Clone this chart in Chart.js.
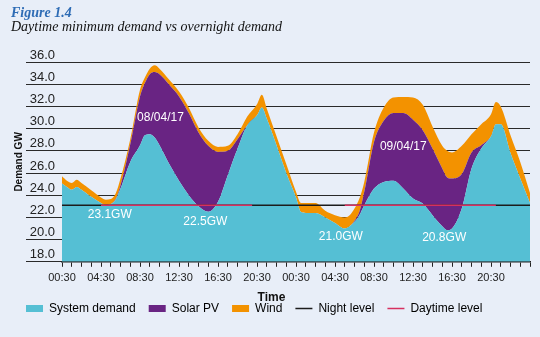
<!DOCTYPE html>
<html lang="en">
<head>
<meta charset="UTF-8">
<title>Daytime minimum demand vs overnight demand</title>
<script src="https://cdn.jsdelivr.net/npm/chart.js"></script>
<style>
  body { margin: 0; padding: 0; background: #e8eef8; }
  .wrap { position: relative; width: 540px; height: 337px; }
  .fig { position: absolute; left: 11px; top: 5px; font: italic bold 14px "Liberation Serif", serif; color: #2e6cb5; }
  .sub { position: absolute; left: 11px; top: 19px; font: italic 14px "Liberation Serif", serif; color: #111; }
  canvas { position: absolute; left: 0; top: 0; }
</style>
</head>
<body>
<div class="wrap">
  <canvas id="demandChart" width="540" height="337"></canvas>
  <div class="fig">Figure 1.4</div>
  <div class="sub">Daytime minimum demand vs overnight demand</div>
</div>

<script>
// hours after 00:30 on 08/04/17
var hours  = [0, 0.5, 1, 1.5, 2, 3, 4, 4.5, 5, 5.5, 6, 7, 8, 8.5, 9, 9.5, 10, 11, 12, 13, 14, 15, 16, 17, 18, 19, 20, 20.5, 21, 22, 23,
              24, 24.5, 25, 26, 27, 28, 29, 29.5, 30, 30.5, 31, 32, 33, 34, 35, 36, 37, 38, 39, 39.5, 40, 41, 42, 43, 44, 44.5, 45, 46, 47, 48];
var demand = [25.05, 24.75, 24.5, 24.75, 24.5, 23.85, 23.3, 23.1, 23.2, 23.6, 24.6, 27.0, 28.5, 29.4, 29.5, 29.2, 28.5, 26.8, 25.3, 24.0, 23.0, 22.5, 23.4, 25.8, 28.2, 30.3, 31.2, 31.9, 30.9, 28.5, 26.0,
              23.8, 22.5, 22.4, 22.4, 22.0, 21.5, 21.0, 21.2, 21.6, 22.2, 23.1, 24.6, 25.2, 25.3, 24.6, 23.7, 23.25, 22.2, 21.2, 20.85, 21.0, 22.8, 26.4, 28.2, 29.3, 30.4, 30.4, 27.8, 25.5, 23.3];
var solar  = [0, 0, 0, 0, 0, 0, 0, 0, 0, 0.05, 0.3, 1.6, 4.4, 4.7, 5.4, 5.9, 6.4, 7.15, 7.6, 7.4, 6.65, 5.95, 4.5, 2.2, 0.85, 0, 0, 0, 0, 0, 0,
              0, 0, 0, 0, 0, 0, 0, 0, 0.1, 0.3, 1.2, 4.2, 5.5, 6.1, 6.8, 7.1, 6.6, 6.0, 5.2, 4.75, 4.5, 3.1, 1.45, 0.3, 0, 0, 0, 0, 0, 0];
var wind   = [0.65, 0.55, 0.6, 0.65, 0.6, 0.6, 0.5, 0.5, 0.45, 0.5, 0.6, 0.45, 0.6, 0.5, 0.5, 0.6, 0.5, 0.45, 0.45, 0.5, 0.45, 0.45, 0.45, 0.45, 0.45, 0.8, 1.0, 1.15, 0.9, 0.8, 0.8,
              0.5, 0.8, 0.9, 0.9, 0.6, 0.7, 1.0, 1.0, 1.1, 1.2, 0.9, 0.85, 1.2, 1.4, 1.45, 2.0, 2.3, 2.0, 2.05, 2.4, 2.35, 2.55, 1.65, 1.9, 2.0, 2.0, 1.6, 1.6, 1.5, 0.9];

var nightLevel = 23.1;
var daytimeHours = [4, 19.5, null, 29, 44.5];
var timeLabels = ['00:30', '04:30', '08:30', '12:30', '16:30', '20:30'];

var notes = [
    { text: '08/04/17', h: 10.1, v: 31.0 },
    { text: '23.1GW',   h: 4.9,  v: 22.2 },
    { text: '22.5GW',   h: 14.7, v: 21.65 },
    { text: '09/04/17', h: 35.0, v: 28.35 },
    { text: '21.0GW',   h: 28.6, v: 20.3 },
    { text: '20.8GW',   h: 39.2, v: 20.15 }
];

function points(values) {
    return hours.map(function(h, i) { return { x: h, y: values[i] }; });
}

var notePlugin = {
    id: 'notes',
    afterDatasetsDraw: function(chart) {
        var ctx = chart.ctx, x = chart.scales.x, y = chart.scales.y;
        ctx.save();
        ctx.font = '12px "Liberation Sans", Arial, sans-serif';
        ctx.fillStyle = '#ffffff';
        ctx.textAlign = 'center';
        ctx.textBaseline = 'middle';
        notes.forEach(function(n) {
            ctx.fillText(n.text, x.getPixelForValue(n.h), y.getPixelForValue(n.v));
        });
        ctx.restore();
    }
};

Chart.defaults.font.family = '"Liberation Sans", Arial, sans-serif';
Chart.defaults.color = '#222';

new Chart(document.getElementById('demandChart'), {
    type: 'line',
    data: {
        datasets: [
            { label: 'System demand', data: points(demand), backgroundColor: '#55bfd4', borderWidth: 0, pointRadius: 0, fill: 'start', stack: 'supply', order: 2, cubicInterpolationMode: 'monotone' },
            { label: 'Solar PV', data: points(solar), backgroundColor: '#692483', borderWidth: 0, pointRadius: 0, fill: '-1', stack: 'supply', order: 2, cubicInterpolationMode: 'monotone' },
            { label: 'Wind', data: points(wind), backgroundColor: '#f39200', borderWidth: 0, pointRadius: 0, fill: '-1', stack: 'supply', order: 2, cubicInterpolationMode: 'monotone' },
            { label: 'Night level', data: [{ x: 0, y: nightLevel }, { x: 48, y: nightLevel }], borderColor: '#1c1c1c', borderWidth: 1.5, pointRadius: 0, fill: false, stack: 'night', order: 1 },
            { label: 'Daytime level', data: daytimeHours.map(function(h) { return { x: h === null ? 24 : h, y: h === null ? null : nightLevel }; }),
              borderColor: '#d6305f', borderWidth: 1.5, pointRadius: 0, fill: false, stack: 'day', order: 0 }
        ]
    },
    options: {
        responsive: false,
        animation: false,
        layout: { padding: { top: 62, right: 10, bottom: 12, left: 13 } },
        plugins: {
            tooltip: { enabled: false },
            title: {
                display: true, text: 'Time', position: 'bottom', weight: 500,
                color: '#111', font: { size: 12, weight: 'bold' }, padding: { top: 0, bottom: -15 }
            },
            legend: {
                position: 'bottom', align: 'start',
                labels: {
                    usePointStyle: true, pointStyleWidth: 17, boxHeight: 7, padding: 13,
                    color: '#222', font: { size: 12 },
                    generateLabels: function(chart) {
                        return chart.data.datasets.map(function(ds, i) {
                            var isLine = ds.fill === false;
                            return {
                                text: ds.label, datasetIndex: i,
                                fillStyle: isLine ? ds.borderColor : ds.backgroundColor,
                                strokeStyle: isLine ? ds.borderColor : ds.backgroundColor,
                                lineWidth: isLine ? 1.5 : 0,
                                pointStyle: isLine ? 'line' : 'rect'
                            };
                        });
                    }
                }
            }
        },
        scales: {
            x: {
                type: 'linear', min: 0, max: 48,
                border: { display: true, color: '#222', width: 1.5 },
                grid: { drawOnChartArea: false, tickLength: 5, color: '#222' },
                ticks: {
                    stepSize: 1, autoSkip: false, maxRotation: 0, padding: 5,
                    font: { size: 11 }, color: '#222',
                    callback: function(v) { return (v % 4 === 0 && v < 48) ? timeLabels[(v / 4) % 6] : ''; }
                }
            },
            y: {
                stacked: true, min: 18, max: 36,
                afterFit: function(scale) { scale.width = 49; },
                border: { display: false },
                grid: { color: '#2a2a2a', tickLength: 36 },
                ticks: {
                    stepSize: 2, padding: -29, labelOffset: -7,
                    font: { size: 13 }, color: '#222',
                    callback: function(v) { return v.toFixed(1); }
                },
                title: {
                    display: true, text: 'Demand GW', color: '#111',
                    font: { size: 10, weight: 'bold' }, padding: { top: 0, bottom: 0 }
                }
            }
        }
    },
    plugins: [notePlugin]
});
</script>
</body>
</html>
